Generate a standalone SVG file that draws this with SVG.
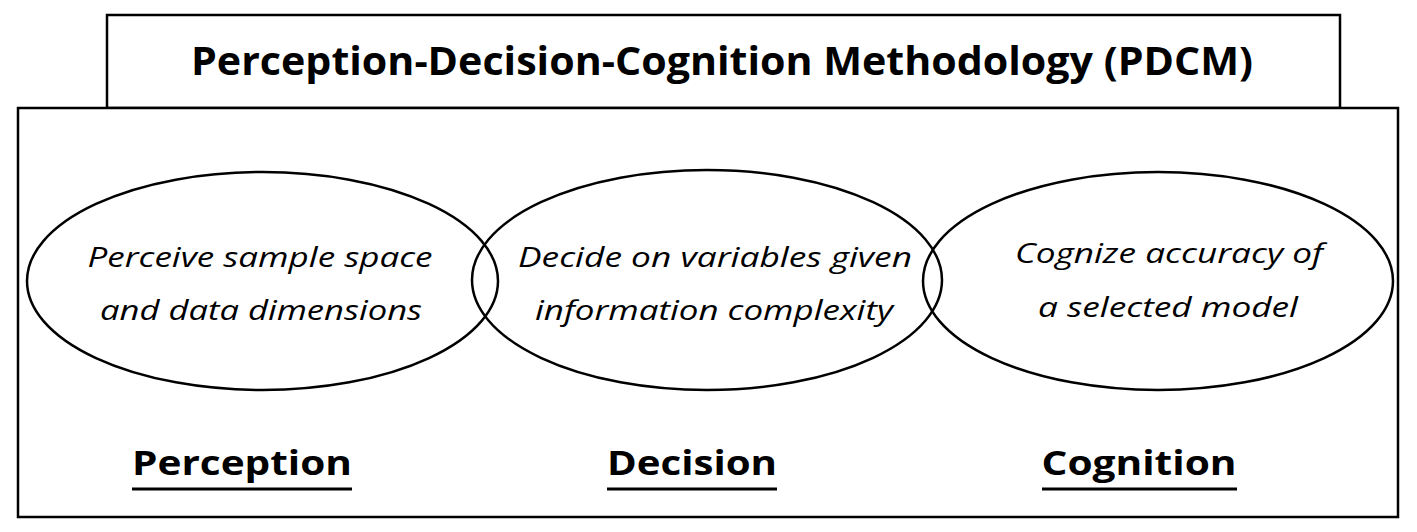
<svg xmlns="http://www.w3.org/2000/svg" width="1417" height="532" viewBox="0 0 1417 532">
<style>
.box{fill:#fff;stroke:#000;stroke-width:2.5}
.ell{fill:none;stroke:#000;stroke-width:2.5}
.title{font-family:"Open Sans","Liberation Sans",sans-serif;font-weight:bold;font-size:39px;fill:#000}
.desc{font-family:"Open Sans","Liberation Sans",sans-serif;font-style:italic;font-size:27.5px;fill:#000}
.lab{font-family:"Open Sans","Liberation Sans",sans-serif;font-weight:bold;font-size:34px;fill:#000}
.ul{stroke:#000;stroke-width:3}
</style>
<rect width="1417" height="532" fill="#fff"/>
<g id="title">
<rect class="box" x="107" y="15" width="1233" height="93"/>
<text class="title" x="722" y="75" text-anchor="middle" textLength="1062" lengthAdjust="spacingAndGlyphs">Perception-Decision-Cognition Methodology (PDCM)</text>
</g>
<g id="frame">
<rect class="box" x="18" y="108" width="1380" height="409"/>
</g>
<g id="perception">
<ellipse class="ell" cx="262.5" cy="281" rx="235.5" ry="109"/>
<text class="desc" x="260" y="267" text-anchor="middle" textLength="345" lengthAdjust="spacingAndGlyphs">Perceive sample space</text>
<text class="desc" x="261" y="320" text-anchor="middle" textLength="322" lengthAdjust="spacingAndGlyphs">and data dimensions</text>
<text class="lab" x="242" y="475" text-anchor="middle" textLength="220" lengthAdjust="spacingAndGlyphs">Perception</text>
<line class="ul" x1="132" y1="489" x2="352" y2="489"/>
</g>
<g id="decision">
<ellipse class="ell" cx="707" cy="280" rx="235" ry="110"/>
<text class="desc" x="715" y="267" text-anchor="middle" textLength="394" lengthAdjust="spacingAndGlyphs">Decide on variables given</text>
<text class="desc" x="714" y="320" text-anchor="middle" textLength="358" lengthAdjust="spacingAndGlyphs">information complexity</text>
<text class="lab" x="692" y="475" text-anchor="middle" textLength="170" lengthAdjust="spacingAndGlyphs">Decision</text>
<line class="ul" x1="607" y1="489" x2="777" y2="489"/>
</g>
<g id="cognition">
<ellipse class="ell" cx="1158" cy="281" rx="235" ry="109"/>
<text class="desc" x="1169" y="263" text-anchor="middle" textLength="308" lengthAdjust="spacingAndGlyphs">Cognize accuracy of</text>
<text class="desc" x="1168" y="317" text-anchor="middle" textLength="260" lengthAdjust="spacingAndGlyphs">a selected model</text>
<text class="lab" x="1139" y="475" text-anchor="middle" textLength="195" lengthAdjust="spacingAndGlyphs">Cognition</text>
<line class="ul" x1="1042" y1="489" x2="1237" y2="489"/>
</g>
<g id="connectors"></g>
</svg>
